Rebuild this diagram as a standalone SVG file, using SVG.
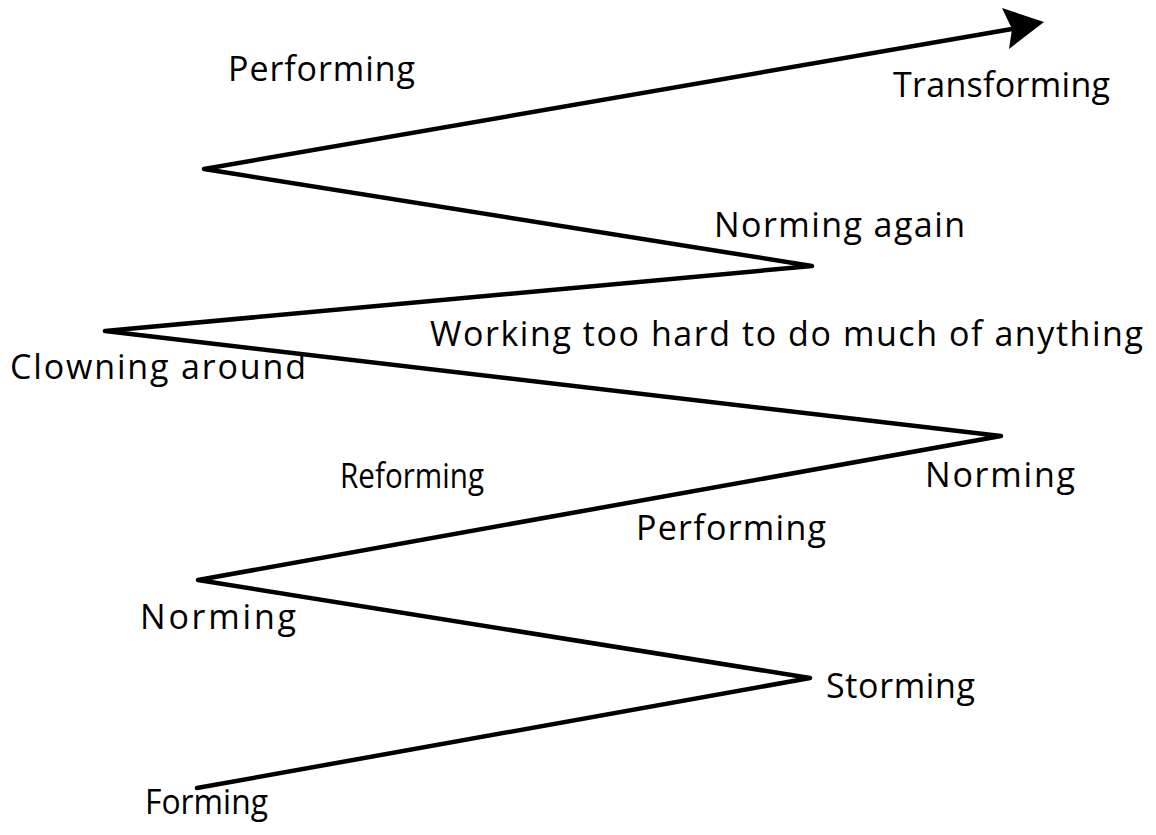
<svg xmlns="http://www.w3.org/2000/svg" width="1156" height="835" viewBox="0 0 1156 835">
<style>
.lbl{font-family:"Open Sans",Lato,sans-serif;font-size:34px;fill:#000}
.ln{fill:none;stroke:#000;stroke-width:4.5;stroke-linejoin:round;stroke-linecap:round}
</style>
<rect width="1156" height="835" fill="#fff"/>
<g id="connectors">
<polyline class="ln" points="197,788 810,678 198,580 1001,436 105,331 812,266 204,169 1012,29"/>
<polygon points="1044,22 1002,8 1012,29 1009,49" fill="#000"/>
</g>
<g id="n-performing-top"><text class="lbl" x="228" y="81" textLength="187" lengthAdjust="spacing">Performing</text></g>
<g id="n-transforming"><text class="lbl" x="893" y="97" textLength="217" lengthAdjust="spacing">Transforming</text></g>
<g id="n-norming-again"><text class="lbl" x="714" y="237" textLength="251" lengthAdjust="spacing">Norming again</text></g>
<g id="n-working"><text class="lbl" x="430" y="346" textLength="713" lengthAdjust="spacing">Working too hard to do much of anything</text></g>
<g id="n-clowning"><text class="lbl" x="10" y="379" textLength="296" lengthAdjust="spacing">Clowning around</text></g>
<g id="n-reforming"><text class="lbl" x="340" y="488" textLength="144" lengthAdjust="spacingAndGlyphs">Reforming</text></g>
<g id="n-norming-right"><text class="lbl" x="925" y="487" textLength="150" lengthAdjust="spacing">Norming</text></g>
<g id="n-performing-mid"><text class="lbl" x="636" y="540" textLength="190" lengthAdjust="spacing">Performing</text></g>
<g id="n-norming-left"><text class="lbl" x="140" y="629" textLength="156" lengthAdjust="spacing">Norming</text></g>
<g id="n-storming"><text class="lbl" x="826" y="698" textLength="149" lengthAdjust="spacing">Storming</text></g>
<g id="n-forming"><text class="lbl" x="145" y="814" textLength="123" lengthAdjust="spacingAndGlyphs">Forming</text></g>
</svg>
